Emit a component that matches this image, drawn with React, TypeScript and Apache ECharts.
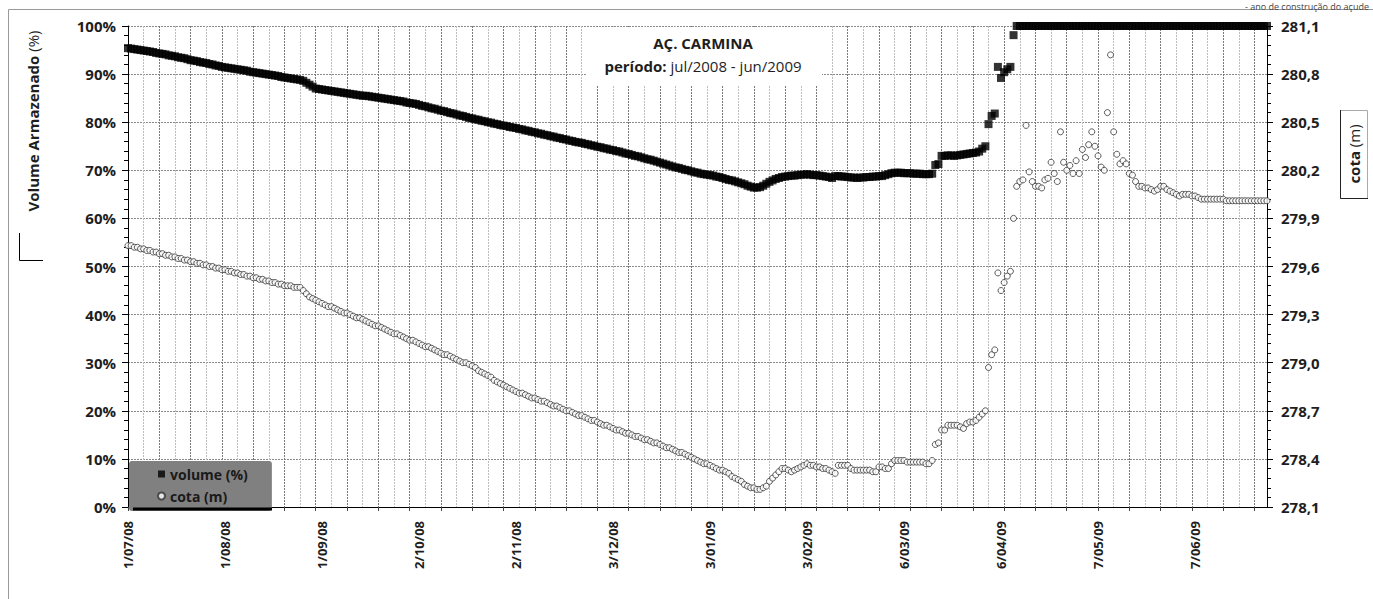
import React, { useEffect, useRef } from 'react';
import * as echarts from 'echarts';

const FONT = '"Open Sans", "Noto Sans", sans-serif';

// categories: one per day, 1 Jul 2008 .. 30 Jun 2009
const START_DATE = Date.UTC(2008, 6, 1);
const DAY_COUNT = 365;
const dates: string[] = [];
for (let i = 0; i < DAY_COUNT; i++) {
  const d = new Date(START_DATE + i * 86400000);
  dates.push(
    `${d.getUTCDate()}/${String(d.getUTCMonth() + 1).padStart(2, '0')}/${String(d.getUTCFullYear()).slice(2)}`
  );
}

// Volume armazenado (%) - daily readings
const volume = [
  // 0-10
  95.4, 95.3, 95.2, 95.1, 95.0, 94.9, 94.8, 94.7, 94.6, 94.4, 94.3,
  // 11-20
  94.2, 94.1, 93.9, 93.8, 93.7, 93.5, 93.4, 93.3, 93.1, 92.9,
  // 21-30
  92.8, 92.7, 92.5, 92.4, 92.3, 92.1, 92.0, 91.8, 91.7, 91.5,
  // 31-40
  91.4, 91.3, 91.2, 91.1, 91.0, 90.9, 90.8, 90.7, 90.5, 90.4,
  // 41-50
  90.3, 90.2, 90.1, 90.0, 89.9, 89.8, 89.7, 89.6, 89.4, 89.3,
  // 51-60
  89.2, 89.1, 89.0, 88.9, 88.8, 88.6, 88.2, 87.8, 87.4, 87.0,
  // 61-77
  86.9, 86.8, 86.7, 86.6, 86.5, 86.4, 86.3, 86.2, 86.1, 86.0, 85.9, 85.8, 85.7, 85.6, 85.5, 85.5, 85.4,
  // 78-93
  85.3, 85.2, 85.1, 85.0, 84.9, 84.8, 84.7, 84.6, 84.5, 84.4, 84.3, 84.1, 84.0, 83.9, 83.8, 83.6,
  // 94-109
  83.4, 83.3, 83.1, 82.9, 82.8, 82.6, 82.4, 82.3, 82.1, 81.9, 81.8, 81.6, 81.4, 81.3, 81.1, 80.9,
  // 110-124
  80.8, 80.6, 80.5, 80.3, 80.2, 80.0, 79.9, 79.7, 79.6, 79.4, 79.3, 79.2, 79.0, 78.9, 78.8,
  // 125-138
  78.6, 78.5, 78.3, 78.2, 78.0, 77.9, 77.7, 77.6, 77.4, 77.3, 77.1, 77.0, 76.8, 76.7,
  // 139-155
  76.5, 76.4, 76.2, 76.1, 75.9, 75.8, 75.7, 75.5, 75.4, 75.2, 75.1, 74.9, 74.8, 74.6, 74.5, 74.3, 74.2,
  // 156-183
  74.0, 73.9, 73.7, 73.5, 73.4, 73.2, 73.0, 72.9, 72.7, 72.5, 72.3, 72.2, 72.0, 71.8, 71.6, 71.4, 71.2, 71.0,
  70.8, 70.6, 70.5, 70.3, 70.1, 70.0, 69.8, 69.6, 69.5, 69.3,
  // 184-200
  69.2, 69.1, 69.0, 68.9, 68.7, 68.6, 68.4, 68.2, 68.0, 67.9, 67.7, 67.5, 67.3, 67.1, 66.8, 66.6, 66.4,
  // 201-209
  66.4, 66.5, 66.8, 67.2, 67.6, 67.9, 68.2, 68.4, 68.6,
  // 210-217
  68.7, 68.8, 68.9, 68.9, 69.0, 69.1, 69.1, 69.2,
  // 218-225
  69.1, 69.0, 69.0, 68.9, 68.8, 68.7, 68.6, 68.4,
  // 226-233
  68.8, 68.8, 68.7, 68.7, 68.6, 68.5, 68.5, 68.4,
  // 234-241
  68.5, 68.5, 68.6, 68.6, 68.7, 68.7, 68.8, 68.8,
  // 242-244
  69.0, 69.2, 69.4,
  // 245-257
  69.5, 69.5, 69.5, 69.4, 69.4, 69.4, 69.3, 69.3, 69.3, 69.2, 69.2, 69.2, 69.3,
  // 258-259
  71.1, 71.3,
  // 260-272
  73.0, 73.0, 73.1, 73.1, 73.0, 73.1, 73.2, 73.3, 73.4, 73.5, 73.6, 73.7, 73.9,
  // 273-274
  74.5, 75.0,
  // 275-283
  79.6, 81.3, 81.8, 91.5, 89.2, 90.4, 91.0, 91.5, 98.1,
  // 284-364
  100, 100, 100, 100, 100, 100, 100, 100, 100, 100,
  100, 100, 100, 100, 100, 100, 100, 100, 100, 100,
  100, 100, 100, 100, 100, 100, 100, 100, 100, 100,
  100, 100, 100, 100, 100, 100, 100, 100, 100, 100,
  100, 100, 100, 100, 100, 100, 100, 100, 100, 100,
  100, 100, 100, 100, 100, 100, 100, 100, 100, 100,
  100, 100, 100, 100, 100, 100, 100, 100, 100, 100,
  100, 100, 100, 100, 100, 100, 100, 100, 100, 100,
  100,
];

// Cota (m) - daily readings
const cota = [
  // 0-31
  279.73, 279.73, 279.72, 279.72, 279.71, 279.71, 279.70, 279.70, 279.69, 279.69, 279.68, 279.68, 279.67,
  279.67, 279.66, 279.66, 279.65, 279.65, 279.64, 279.64, 279.63, 279.63, 279.62, 279.62, 279.61, 279.61,
  279.60, 279.60, 279.59, 279.59, 279.58, 279.58,
  // 32-55
  279.57, 279.57, 279.56, 279.56, 279.55, 279.55, 279.54, 279.54, 279.53, 279.53, 279.52, 279.52,
  279.51, 279.51, 279.50, 279.50, 279.49, 279.49, 279.48, 279.48, 279.48, 279.47, 279.47, 279.47,
  // 56-62
  279.45, 279.43, 279.41, 279.40, 279.39, 279.38, 279.37,
  // 63-77
  279.36, 279.35, 279.35, 279.34, 279.33, 279.32, 279.31, 279.31, 279.30, 279.29, 279.28, 279.28, 279.27,
  279.26, 279.25,
  // 78-93
  279.24, 279.23, 279.23, 279.22, 279.21, 279.20, 279.19, 279.18, 279.18, 279.17, 279.16, 279.15, 279.14,
  279.14, 279.13, 279.12,
  // 94-109
  279.11, 279.10, 279.10, 279.09, 279.08, 279.07, 279.06, 279.05, 279.05, 279.04, 279.03, 279.02, 279.01,
  279.00, 279.00, 278.99,
  // 110-124
  278.98, 278.97, 278.95, 278.94, 278.93, 278.92, 278.91, 278.89, 278.88, 278.87, 278.86, 278.85, 278.84,
  278.83, 278.82,
  // 125-138
  278.81, 278.81, 278.80, 278.79, 278.78, 278.78, 278.77, 278.76, 278.76, 278.75, 278.74, 278.73, 278.73,
  278.72,
  // 139-155
  278.71, 278.70, 278.70, 278.69, 278.68, 278.67, 278.67, 278.66, 278.65, 278.64, 278.64, 278.63, 278.62,
  278.61, 278.61, 278.60, 278.59,
  // 156-170
  278.58, 278.58, 278.57, 278.56, 278.56, 278.55, 278.54, 278.54, 278.53, 278.52, 278.52, 278.51, 278.50,
  278.50, 278.49,
  // 171-183
  278.48, 278.47, 278.47, 278.46, 278.45, 278.44, 278.44, 278.43, 278.42, 278.41, 278.40, 278.39, 278.38,
  // 184-200
  278.37, 278.37, 278.36, 278.35, 278.34, 278.33, 278.33, 278.32, 278.31, 278.29, 278.28, 278.27, 278.26,
  278.24, 278.23, 278.22, 278.22,
  // 201-209
  278.21, 278.21, 278.22, 278.23, 278.26, 278.28, 278.30, 278.32, 278.34,
  // 210-217
  278.34, 278.33, 278.32, 278.33, 278.34, 278.35, 278.36, 278.37,
  // 218-226
  278.36, 278.36, 278.35, 278.35, 278.34, 278.34, 278.33, 278.32, 278.31,
  // 227-233
  278.36, 278.36, 278.36, 278.36, 278.34, 278.33, 278.33,
  // 234-244
  278.33, 278.33, 278.33, 278.33, 278.32, 278.32, 278.35, 278.35, 278.34, 278.34, 278.37,
  // 245-257
  278.39, 278.39, 278.39, 278.39, 278.38, 278.38, 278.38, 278.38, 278.38, 278.38, 278.37, 278.37, 278.39,
  // 258-274
  278.49, 278.50, 278.58, 278.58, 278.61, 278.61, 278.61, 278.61, 278.60, 278.59, 278.62, 278.63, 278.63,
  278.64, 278.66, 278.68, 278.70,
  // 275-282
  278.97, 279.05, 279.08, 279.56, 279.45, 279.50, 279.54, 279.57,
  // 283-342
  279.90, 280.10, 280.13, 280.14, 280.48, 280.19, 280.13, 280.10, 280.10, 280.09,
  280.14, 280.15, 280.25, 280.18, 280.13, 280.44, 280.25, 280.20, 280.23, 280.18,
  280.26, 280.18, 280.33, 280.28, 280.36, 280.44, 280.35, 280.29, 280.22, 280.20,
  280.56, 280.92, 280.44, 280.30, 280.24, 280.26, 280.24, 280.18, 280.17, 280.13,
  280.10, 280.10, 280.09, 280.09, 280.08, 280.07, 280.08, 280.10, 280.10, 280.08,
  280.07, 280.06, 280.05, 280.04, 280.05, 280.05, 280.05, 280.04, 280.04, 280.03,
  // 343-350
  280.02, 280.02, 280.02, 280.02, 280.02, 280.02, 280.02, 280.02,
  // 351-364
  280.01, 280.01, 280.01, 280.01, 280.01, 280.01, 280.01, 280.01, 280.01, 280.01, 280.01, 280.01, 280.01, 280.01,
];

const VOLUME_NAME = 'volume (%)';
const COTA_NAME = 'cota (m)';
const TITLE = 'AÇ. CARMINA';
const PERIOD_LABEL = 'período:';
const PERIOD_TEXT = 'jul/2008 - jun/2009';
const LEFT_AXIS_NAME = 'Volume Armazenado';
const LEFT_AXIS_UNIT = '(%)';
const RIGHT_AXIS_NAME = 'cota';
const RIGHT_AXIS_UNIT = '(m)';
const NOTE = '- ano de construção do açude';

export default function App() {
  const ref = useRef<HTMLDivElement>(null);

  useEffect(() => {
    if (!ref.current) return;
    const chart = echarts.init(ref.current, null, { renderer: 'svg' });
    const axisLabelStyle = { fontFamily: FONT, fontWeight: 'bold' as const, fontSize: 15, color: '#1e1e1e' };
    const richName = {
      b: { fontFamily: FONT, fontWeight: 'bold', fontSize: 15, fill: '#1e1e1e' },
      r: { fontFamily: FONT, fontWeight: 'normal', fontSize: 15, fill: '#1e1e1e' },
    };

    chart.setOption({
      animation: false,
      textStyle: { fontFamily: FONT },
      grid: { left: 128, right: 106, top: 26, bottom: 92 },
      xAxis: {
        type: 'category',
        data: dates,
        boundaryGap: false,
        axisLine: { lineStyle: { color: '#000', width: 1 } },
        axisTick: { show: true, interval: 9, length: 4, lineStyle: { color: '#444' } },
        axisLabel: {
          interval: 30,
          rotate: 90,
          margin: 14,
          fontFamily: FONT,
          fontWeight: 'bold',
          fontSize: 13,
          color: '#1e1e1e',
        },
        splitLine: {
          show: true,
          interval: 4,
          lineStyle: { color: ['#7a7a7a', '#bdbdbd'], type: [2, 1], width: 1 },
        },
      },
      yAxis: [
        {
          type: 'value',
          min: 0,
          max: 100,
          interval: 10,
          position: 'left',
          axisLine: { show: true, lineStyle: { color: '#000' } },
          axisTick: { show: true, length: 6, lineStyle: { color: '#000' } },
          minorTick: { show: true, splitNumber: 5, length: 4, lineStyle: { color: '#000' } },
          axisLabel: { ...axisLabelStyle, formatter: '{value}%', margin: 12 },
          splitLine: { show: true, lineStyle: { color: '#8a8a8a', type: [2, 1] } },
        },
        {
          type: 'value',
          min: 278.1,
          max: 281.1,
          interval: 0.3,
          position: 'right',
          axisLine: { show: true, lineStyle: { color: '#000' } },
          axisTick: { show: true, length: 6, lineStyle: { color: '#000' } },
          minorTick: { show: true, splitNumber: 5, length: 4, lineStyle: { color: '#000' } },
          axisLabel: {
            ...axisLabelStyle,
            margin: 14,
            formatter: (v: number) => v.toFixed(1).replace('.', ','),
          },
          splitLine: { show: false },
        },
      ],
      legend: {
        left: 129,
        top: 461,
        orient: 'vertical',
        backgroundColor: '#808080',
        borderRadius: 3,
        padding: [5, 24, 7, 28],
        itemGap: 6,
        itemWidth: 7,
        itemHeight: 7,
        textStyle: { fontFamily: FONT, fontWeight: 'bold', fontSize: 14, color: '#1a1a1a', lineHeight: 16 },
        data: [
          { name: VOLUME_NAME, icon: 'rect' },
          { name: COTA_NAME, icon: 'circle' },
        ],
      },
      series: [
        {
          name: VOLUME_NAME,
          type: 'scatter',
          yAxisIndex: 0,
          data: volume,
          symbol: 'rect',
          symbolSize: 8,
          clip: false,
          itemStyle: { color: '#000' },
          z: 3,
        },
        {
          name: COTA_NAME,
          type: 'scatter',
          yAxisIndex: 1,
          data: cota,
          symbol: 'circle',
          symbolSize: 6,
          clip: false,
          itemStyle: { color: '#fff', borderColor: '#333', borderWidth: 1 },
          z: 4,
        },
      ],
      graphic: [
        {
          type: 'rect',
          silent: true,
          z: -10,
          shape: { x: 8.5, y: 9.5, width: 1500, height: 800 },
          style: { fill: 'none', stroke: '#9a9a9a', lineWidth: 1 },
        },
        {
          type: 'text',
          x: 1369,
          y: 2,
          style: {
            text: NOTE,
            fill: '#444',
            font: `9px ${FONT}`,
            align: 'right',
            verticalAlign: 'top',
          },
        },
        {
          type: 'rect',
          z: 10,
          shape: { x: 586, y: 27, width: 236, height: 58 },
          style: { fill: '#fff' },
        },
        {
          type: 'text',
          z: 11,
          x: 703,
          y: 43,
          style: {
            text: TITLE,
            fill: '#1e1e1e',
            font: `bold 15px ${FONT}`,
            align: 'center',
            verticalAlign: 'middle',
          },
        },
        {
          type: 'text',
          z: 11,
          x: 703,
          y: 66,
          style: {
            text: `{b|${PERIOD_LABEL}} {r|${PERIOD_TEXT}}`,
            align: 'center',
            verticalAlign: 'middle',
            font: `15px ${FONT}`,
            rich: richName,
          },
        },
        {
          type: 'text',
          x: 33,
          y: 121,
          rotation: Math.PI / 2,
          style: {
            text: `{b|${LEFT_AXIS_NAME}} {r|${LEFT_AXIS_UNIT}}`,
            align: 'center',
            verticalAlign: 'middle',
            font: `15px ${FONT}`,
            rich: richName,
          },
        },
        {
          type: 'polyline',
          shape: { points: [[19.5, 233], [19.5, 260.5], [43, 260.5]] },
          style: { stroke: '#000', lineWidth: 1, fill: 'none' },
        },
        {
          type: 'rect',
          shape: { x: 1340.5, y: 110.5, width: 27, height: 88 },
          style: { fill: '#fff', stroke: '#aaa', lineWidth: 1 },
        },
        {
          type: 'polyline',
          shape: { points: [[1340.5, 110], [1340.5, 198.5], [1368, 198.5]] },
          style: { stroke: '#222', lineWidth: 1, fill: 'none' },
        },
        {
          type: 'text',
          x: 1354,
          y: 154,
          rotation: Math.PI / 2,
          style: {
            text: `{b|${RIGHT_AXIS_NAME}} {r|${RIGHT_AXIS_UNIT}}`,
            align: 'center',
            verticalAlign: 'middle',
            font: `15px ${FONT}`,
            rich: richName,
          },
        },
        {
          type: 'rect',
          z: 5,
          shape: { x: 133, y: 507.5, width: 139, height: 3 },
          style: { fill: '#000' },
        },
      ],
    });

    return () => chart.dispose();
  }, []);

  return (
    <div
      ref={ref}
      style={{ position: 'absolute', left: 0, top: 0, width: 1373, height: 599, background: '#fff' }}
    />
  );
}
